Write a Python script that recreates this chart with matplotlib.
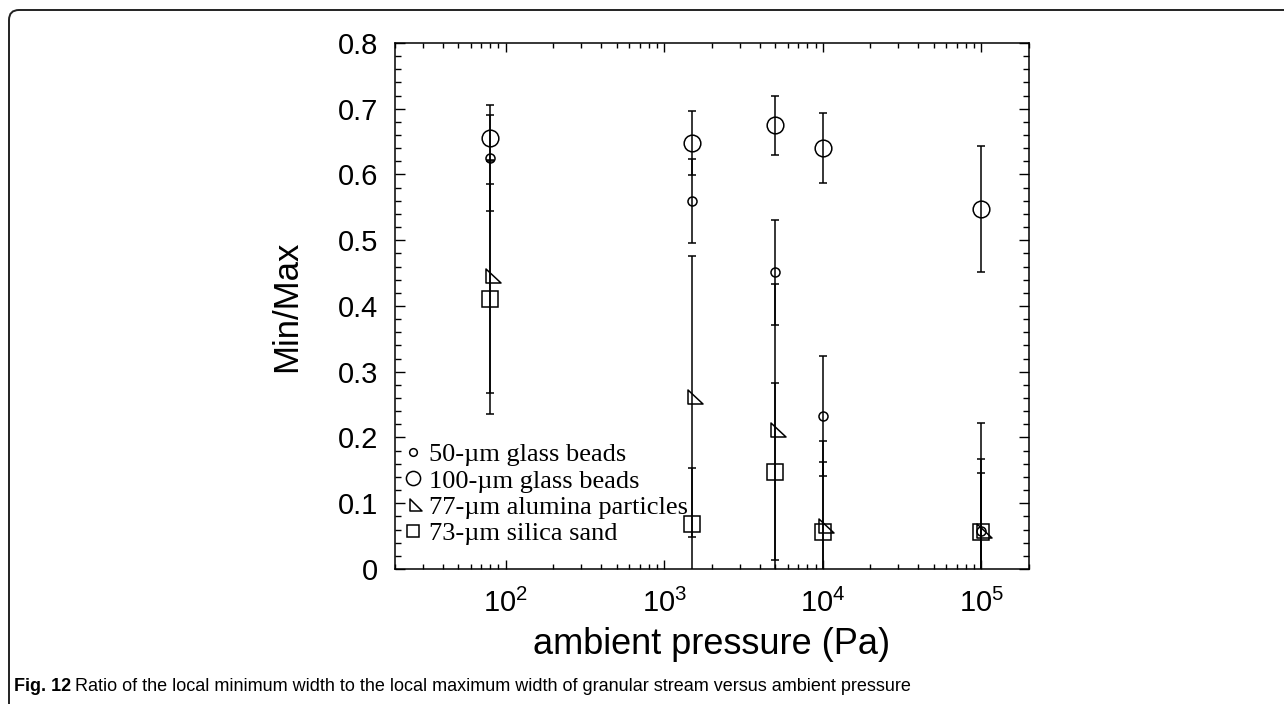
import numpy as np
import matplotlib
matplotlib.use('Agg')
import matplotlib.pyplot as plt
from matplotlib.path import Path
from matplotlib.patches import FancyBboxPatch
from matplotlib.transforms import IdentityTransform

plt.rcParams['font.family'] = ['Liberation Sans', 'DejaVu Sans']
plt.rcParams['mathtext.default'] = 'regular'

# ambient pressure (Pa)
pressure = [80, 1500, 5000, 1e4, 1e5]

# Min/Max ratio and error for each material
gb50 = [0.625, 0.560, 0.451, 0.233, 0.058]
gb50_err = [0.080, 0.064, 0.080, 0.091, 0.164]
gb100 = [0.655, 0.648, 0.675, 0.640, 0.548]
gb100_err = [0.035, 0.049, 0.045, 0.053, 0.096]
alumina = [0.445, 0.262, 0.211, 0.065, 0.058]
alumina_err = [0.177, 0.214, 0.223, 0.130, 0.109]
silica = [0.410, 0.068, 0.148, 0.056, 0.056]
silica_err = [0.175, 0.086, 0.135, 0.107, 0.090]

labels = ['50-\u00b5m glass beads', '100-\u00b5m glass beads',
          '77-\u00b5m alumina particles', '73-\u00b5m silica sand']

# right triangle marker, vertical edge on the left
tri = Path([(-4, 7.3), (-4, -7.3), (11, -7.3), (-4, 7.3)],
           [Path.MOVETO, Path.LINETO, Path.LINETO, Path.CLOSEPOLY])

fig = plt.figure(figsize=(12.84, 7.04), dpi=100)
ax = fig.add_axes([0.3076, 0.1918, 0.4938, 0.7472])

series = [(gb50, gb50_err, 'o', 6.5),
          (gb100, gb100_err, 'o', 12),
          (alumina, alumina_err, tri, 15.5),
          (silica, silica_err, 's', 11)]

handles = []
for y, err, mk, ms in series:
    c = ax.errorbar(pressure, y, yerr=err, fmt='', marker=mk,
                    ls='none', mfc='none', mec='black', mew=1.1, ms=ms,
                    ecolor='black', elinewidth=1.1, capsize=3, capthick=1.1)
    handles.append(c.lines[0])

ax.set_xscale('log')
ax.set_xlim(20, 2e5)
ax.set_ylim(0, 0.8)
ax.set_yticks(np.arange(0, 0.81, 0.1))
ax.set_yticklabels(['0', '0.1', '0.2', '0.3', '0.4', '0.5', '0.6', '0.7', '0.8'])
ax.set_yticks(np.arange(0, 0.81, 0.02), minor=True)
ax.set_xticks([1e2, 1e3, 1e4, 1e5])
ax.set_xticklabels(['$10^2$', '$10^3$', '$10^4$', '$10^5$'])

ax.tick_params(which='both', direction='in', top=True, right=True, width=1.0)
ax.tick_params(axis='y', which='major', length=7.5, labelsize=21, pad=12)
ax.tick_params(axis='y', which='minor', length=4)
ax.tick_params(axis='x', which='major', length=6.5, labelsize=21, pad=14)
ax.tick_params(axis='x', which='minor', length=3.5, labelbottom=False)
for s in ax.spines.values():
    s.set_linewidth(1.1)

ax.set_xlabel('ambient pressure (Pa)', fontsize=26, labelpad=7)
ax.set_ylabel('Min/Max', fontsize=25, labelpad=25)

ax.legend(handles, labels, loc='lower left', bbox_to_anchor=(0.012, 0.045),
          frameon=False, borderpad=0, borderaxespad=0, handlelength=0.8,
          handletextpad=0.2, labelspacing=0.11, markerscale=0.85,
          prop={'family': 'Liberation Serif', 'size': 19})

# page frame (top and left edges only)
frame = FancyBboxPatch((9, -60), 1500, 754, boxstyle='round,pad=0,rounding_size=10',
                       transform=IdentityTransform(), fill=False, ec='#222222',
                       lw=1.4)
fig.patches.append(frame)

fig.text(0.011, 0.018, 'Fig. 12', fontsize=13, fontweight='bold',
         family=['Liberation Sans Narrow', 'Liberation Sans'])
cap = fig.texts[-1]
ax.annotate('Ratio of the local minimum width to the local maximum width of granular '
            'stream versus ambient pressure', xy=(1, 0), xycoords=cap,
            xytext=(3, 0), textcoords='offset points', va='bottom',
            fontsize=13, family=['Liberation Sans Narrow', 'Liberation Sans'],
            annotation_clip=False)

fig.savefig('out.png', dpi=100)
